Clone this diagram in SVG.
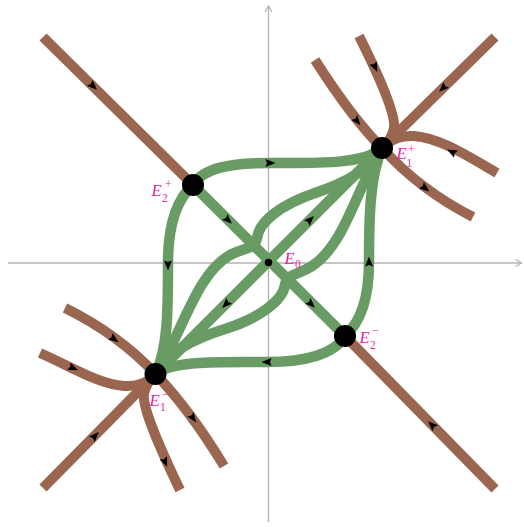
<svg xmlns="http://www.w3.org/2000/svg" width="524" height="527" viewBox="0 0 524 527">
<style>
.axis{stroke:#b3b3b3;stroke-width:1.3;fill:none}
.br{stroke:#9a6650;stroke-width:10;fill:none;stroke-linecap:butt}
.gr{stroke:#699c64;stroke-width:10.5;fill:none;stroke-linecap:round;stroke-linejoin:round}
.node{fill:#000}
.lab{font-family:"Liberation Serif",serif;fill:#e8239c;font-size:16.5px}
.it{font-style:italic}
.s{font-size:11.5px}
</style>
<defs>
<path id="ah" d="M5.5,0 L-4.5,-4 L-3,0 L-4.5,4 Z" fill="#000"/>
</defs>
<g id="axes" class="axis">
<line x1="8" y1="263" x2="521" y2="263"/>
<path d="M515.5,259.5 L521.5,263 L515.5,266.5"/>
<line x1="268.5" y1="522" x2="268.5" y2="6"/>
<path d="M265,12 L268.5,6 L272,12"/>
</g>
<g id="connectors">
<g id="brown">
<path class="br" d="M43,37 L193,185"/>
<path class="br" d="M345,336 L495,489"/>
<path class="br" d="M382,148 L495,37"/>
<path class="br" d="M155.5,374 L43,488"/>
<path class="br" d="M315,60 Q352,118 382,148 Q420,190 473,217"/>
<path class="br" d="M359,36 C381,80 396,115 394,128 Q392,138 385,145"/>
<path class="br" d="M497,173 C466,155 440,138 414,136 Q397,135 385,145"/>
<path class="br" d="M65,308 Q118,334 155.5,374 Q190,410 224,466"/>
<path class="br" d="M180,490 C158,444 142,407 144,394 Q146,384 153,377"/>
<path class="br" d="M40,353 C72,367 98,384 124,386 Q141,387 153,377"/>
</g>
<g id="green">
<path class="gr" d="M193,185 C203,168 230,163 268,163 C310,163 365,165 382,148"/>
<path class="gr" d="M193,185 C176,200 168,225 168,263 C168,310 168,348 155.5,374"/>
<path class="gr" d="M345,336 C362,321 369,297 369,262 C369,215 370,177 382,148"/>
<path class="gr" d="M345,336 C335,354 305,362 268,362 C225,362 172,360 155.5,374"/>
<path class="gr" d="M155.5,374 L382,148"/>
<path class="gr" d="M193,185 L345,336"/>
<path class="gr" d="M155.5,374 C182,335 195,275 230,255 C245,247 255,250 257,238 C259,222 280,205 315,193 C345,183 370,170 382,148"/>
<path class="gr" d="M382,148 C357,187 345,245 312,266 C297,276 287,273 285,285 C283,300 260,318 225,329 C193,339 168,352 155.5,374"/>
</g>
<g id="arrows">
<use href="#ah" transform="translate(93,86) rotate(44.5)"/>
<use href="#ah" transform="translate(375,67) rotate(65)"/>
<use href="#ah" transform="translate(357,121) rotate(50)"/>
<use href="#ah" transform="translate(443,88) rotate(135.5)"/>
<use href="#ah" transform="translate(452,152) rotate(208)"/>
<use href="#ah" transform="translate(425,188) rotate(38)"/>
<use href="#ah" transform="translate(114,339) rotate(36)"/>
<use href="#ah" transform="translate(73,368) rotate(24)"/>
<use href="#ah" transform="translate(95,436) rotate(-45.5)"/>
<use href="#ah" transform="translate(193,418) rotate(55)"/>
<use href="#ah" transform="translate(165,462) rotate(67)"/>
<use href="#ah" transform="translate(432,425) rotate(224.5)"/>
<use href="#ah" transform="translate(270,163) rotate(0)"/>
<use href="#ah" transform="translate(168,265) rotate(90)"/>
<use href="#ah" transform="translate(369,262) rotate(-90)"/>
<use href="#ah" transform="translate(267,362) rotate(180)"/>
<use href="#ah" transform="translate(228,220) rotate(44.5)"/>
<use href="#ah" transform="translate(310,220) rotate(-45)"/>
<use href="#ah" transform="translate(226,304) rotate(135)"/>
<use href="#ah" transform="translate(311,304) rotate(44.5)"/>
</g>
</g>
<g id="E0"><circle class="node" cx="268.5" cy="262.5" r="3.8"/>
<text class="lab" x="284.5" y="263.5"><tspan class="it">E</tspan><tspan class="s" x="295" y="268">0</tspan></text></g>
<g id="E1plus"><circle class="node" cx="382" cy="148" r="11"/>
<text class="lab" x="396.5" y="158.5"><tspan class="it">E</tspan><tspan class="s" x="406.5" y="166.5">1</tspan><tspan class="s" x="408" y="153">+</tspan></text></g>
<g id="E2plus"><circle class="node" cx="193" cy="185" r="11"/>
<text class="lab" x="151.5" y="195.5"><tspan class="it">E</tspan><tspan class="s" x="162" y="201.5">2</tspan><tspan class="s" x="165" y="187.5">+</tspan></text></g>
<g id="E2minus"><circle class="node" cx="345" cy="336" r="11"/>
<text class="lab" x="359.5" y="342.5"><tspan class="it">E</tspan><tspan class="s" x="370" y="348.5">2</tspan><tspan class="s" x="372" y="333.5">−</tspan></text></g>
<g id="E1minus"><circle class="node" cx="155.5" cy="374" r="11"/>
<text class="lab" x="149.5" y="405.5"><tspan class="it">E</tspan><tspan class="s" x="160" y="410.5">1</tspan><tspan class="s" x="162" y="397.5">−</tspan></text></g>
</svg>
